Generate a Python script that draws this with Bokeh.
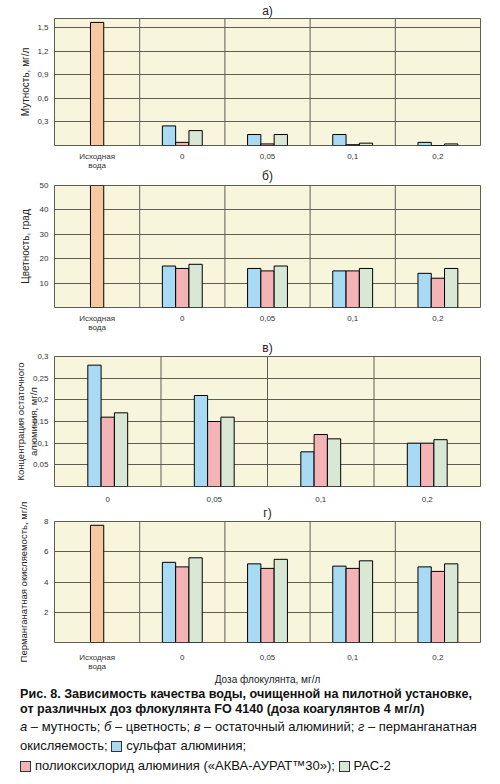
from bokeh.plotting import figure
from bokeh.models import FactorRange, Range1d, FixedTicker, Span, Title, Div
from bokeh.transform import dodge
from bokeh.layouts import column
from bokeh.embed import file_html
from bokeh.resources import INLINE

# ---------------- data ----------------
cats_full = ["Исходная\nвода", "0", "0,05", "0,1", "0,2"]
cats_dose = ["0", "0,05", "0,1", "0,2"]

# а) turbidity, mg/l
turb_raw = [1.57]
turb_sulf = [0.25, 0.14, 0.14, 0.04]
turb_poly = [0.04, 0.02, 0.01, 0.0]
turb_pac = [0.19, 0.14, 0.03, 0.02]
turb_ticks = [0.3, 0.6, 0.9, 1.2, 1.5]
turb_tick_labels = ["0,3", "0,6", "0,9", "1,2", "1,5"]

# б) colour, degrees
col_raw = [50]
col_sulf = [17, 16, 15, 14]
col_poly = [16, 15, 15, 12]
col_pac = [17.7, 17, 16, 16]
col_ticks = [10, 20, 30, 40, 50]
col_tick_labels = ["10", "20", "30", "40", "50"]

# в) residual aluminium, mg/l
al_sulf = [0.28, 0.21, 0.08, 0.10]
al_poly = [0.16, 0.15, 0.12, 0.10]
al_pac = [0.17, 0.16, 0.11, 0.108]
al_ticks = [0.05, 0.1, 0.15, 0.2, 0.25, 0.3]
al_tick_labels = ["0,05", "0,1", "0,15", "0,2", "0,25", "0,3"]

# г) permanganate oxidizability, mg/l
perm_raw = [7.75]
perm_sulf = [5.3, 5.2, 5.05, 5.0]
perm_poly = [5.0, 4.9, 4.9, 4.7]
perm_pac = [5.6, 5.5, 5.4, 5.2]
perm_ticks = [2, 4, 6, 8]
perm_tick_labels = ["2", "4", "6", "8"]

# ---------------- style ----------------
BG = "#f7f5dc"
GRID = "#5e5e55"
C_RAW = "#f5c8a0"
C_SULF = "#a9daf4"
C_POLY = "#f4b3b5"
C_PAC = "#d8e8d5"
FONT = "Liberation Sans"


def panel(title, ylabel, cats, raw, sulf, poly, pac, ymax, ticks, tick_labels,
          frame_h, b_top, b_bottom, t_standoff, y_standoff, ylabel_size="10px",
          xlabel=None, x_standoff=6, margin_top=0):
    p = figure(x_range=FactorRange(*cats, range_padding=0, factor_padding=0),
               y_range=Range1d(0, ymax),
               width=488, height=b_top + frame_h + b_bottom,
               min_border_left=54, min_border_right=8,
               min_border_top=b_top, min_border_bottom=b_bottom,
               margin=(margin_top, 0, 0, 0),
               output_backend="svg", toolbar_location=None)
    p.add_layout(Title(text=title, align="center", text_font=FONT,
                       text_font_size="12px", text_font_style="normal",
                       standoff=t_standoff, text_color="#222222"), "above")
    p.background_fill_color = BG
    p.border_fill_alpha = 0
    p.outline_line_color = GRID
    p.outline_line_width = 1

    n = len(cats)
    bw = 0.156 * n / 5
    dose = cats[-4:]
    if raw:
        p.vbar(x=[cats[0]], top=raw, width=bw, fill_color=C_RAW,
               line_color="black", line_width=1)
    data = dict(x=dose, s=sulf, q=poly, c=pac)
    p.vbar(x=dodge("x", -bw, range=p.x_range), top="s", source=data, width=bw,
           fill_color=C_SULF, line_color="black", line_width=1)
    p.vbar(x=dodge("x", 0, range=p.x_range), top="q", source=data, width=bw,
           fill_color=C_POLY, line_color="black", line_width=1)
    p.vbar(x=dodge("x", bw, range=p.x_range), top="c", source=data, width=bw,
           fill_color=C_PAC, line_color="black", line_width=1)

    # separators between categories
    for i in range(1, n):
        p.add_layout(Span(location=i, dimension="height", line_color=GRID,
                          line_width=1, level="underlay"))

    p.xgrid.grid_line_color = None
    p.ygrid.ticker = FixedTicker(ticks=ticks)
    p.ygrid.grid_line_color = GRID
    p.ygrid.grid_line_width = 1

    p.yaxis.ticker = FixedTicker(ticks=ticks)
    p.yaxis.major_label_overrides = {t: l for t, l in zip(ticks, tick_labels)}
    for ax in (p.xaxis[0], p.yaxis[0]):
        ax.axis_line_color = None
        ax.major_tick_line_color = None
        ax.minor_tick_line_color = None
        ax.major_tick_out = 0
        ax.major_tick_in = 0
        ax.major_label_text_font = FONT
        ax.major_label_text_font_size = "8px"
        ax.major_label_text_color = "#333333"
        ax.axis_label_text_font = FONT
        ax.axis_label_text_font_size = "10px"
        ax.axis_label_text_font_style = "normal"
        ax.axis_label_text_color = "#222222"
    p.xaxis.major_label_text_line_height = 1.0
    p.yaxis.major_label_standoff = 6
    p.xaxis.major_label_standoff = x_standoff
    p.yaxis.axis_label = ylabel
    p.yaxis.axis_label_standoff = y_standoff
    p.yaxis.axis_label_text_font_size = ylabel_size
    if xlabel:
        p.xaxis.axis_label = xlabel
        p.xaxis.axis_label_standoff = 0
    return p


pa = panel("а)", "Мутность, мг/л", cats_full, turb_raw, turb_sulf, turb_poly,
           turb_pac, 1.62, turb_ticks, turb_tick_labels,
           129, 16, 33, 2, 3)
pb = panel("б)", "Цветность, град", cats_full, col_raw, col_sulf, col_poly,
           col_pac, 50, col_ticks, col_tick_labels,
           126, 17, 30, 5, 6, margin_top=-14)
pc = panel("в)", "Концентрация остаточного\nалюминия, мг/л", cats_dose, None,
           al_sulf, al_poly, al_pac, 0.3, al_ticks, al_tick_labels,
           133, 16, 22, 3, -9, ylabel_size="9.5px", x_standoff=10)
pd_ = panel("г)", "Перманганатная окисляемость, мг/л", cats_full, perm_raw,
            perm_sulf, perm_poly, perm_pac, 8, perm_ticks, perm_tick_labels,
            130, 17, 38, 3, 12, ylabel_size="9.5px",
            xlabel="Доза флокулянта, мг/л", x_standoff=10, margin_top=-6)


def box(color):
    return ('<span style="display:inline-block;width:11px;height:11px;'
            f'background:{color};border:1px solid #333;vertical-align:-2px;'
            'margin-right:4px"></span>')


line_style = "white-space:nowrap;"
caption = Div(
    text=(
        f'<div style="font-family:\'{FONT}\';color:#111;padding-left:20px;width:468px">'
        f'<div style="{line_style}font-weight:bold;font-size:12.6px;height:14px;line-height:14px">'
        'Рис. 8. Зависимость качества воды, очищенной на пилотной установке,</div>'
        f'<div style="{line_style}font-weight:bold;font-size:12.6px;height:17px;line-height:17px">'
        'от различных доз флокулянта FO 4140 (доза коагулянтов 4 мг/л)</div>'
        f'<div style="{line_style}font-size:13px;height:18px;line-height:18px">'
        '<i>а</i> – мутность; <i>б</i> – цветность; <i>в</i> – остаточный алюминий; '
        '<i>г</i> – перманганатная</div>'
        f'<div style="{line_style}font-size:13px;height:20px;line-height:20px">'
        f'окисляемость; {box(C_SULF)}сульфат алюминия;</div>'
        f'<div style="{line_style}font-size:13px;height:20px;line-height:20px">'
        f'{box(C_POLY)}полиоксихлорид алюминия («АКВА-АУРАТ™30»); '
        f'{box(C_PAC)}РАС-2</div>'
        '</div>'
    ),
    width=488, height=89, margin=(0, 0, 0, 0))

layout = column(pa, pb, pc, pd_, caption, spacing=0)
open("out.html", "w").write(file_html(layout, INLINE))
